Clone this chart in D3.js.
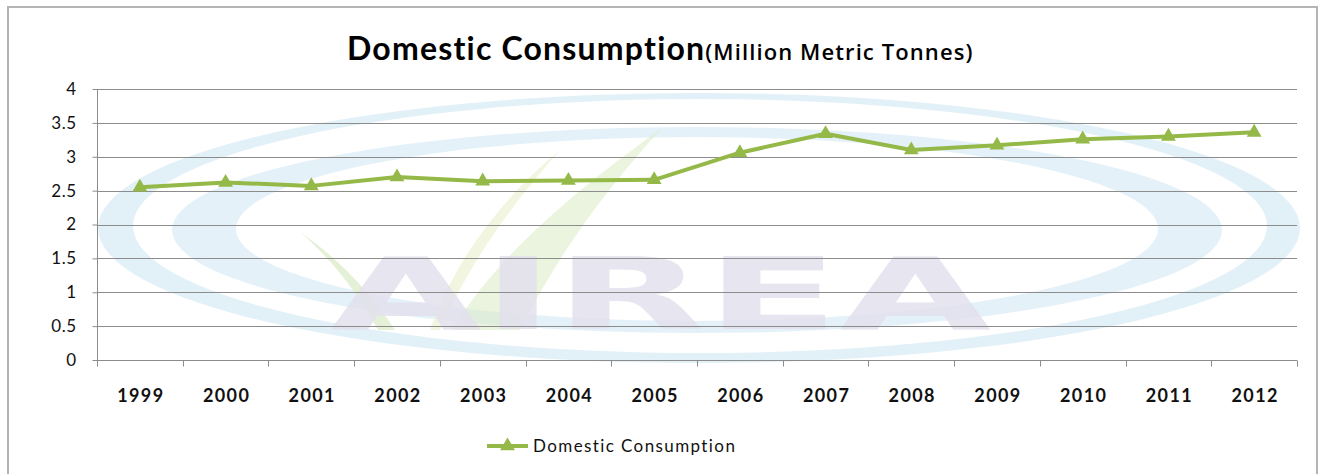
<!DOCTYPE html>
<html>
<head>
<meta charset="utf-8">
<script src="https://cdn.jsdelivr.net/npm/d3@7"></script>
<style>
  html, body { margin: 0; padding: 0; background: #fff; }
  svg { display: block; }
</style>
</head>
<body>
<svg id="chart" width="1327" height="474"></svg>
<script>
// Domestic consumption, million metric tonnes
const years = ["1999","2000","2001","2002","2003","2004","2005","2006","2007","2008","2009","2010","2011","2012"];
const consumption = [2.55, 2.62, 2.57, 2.70, 2.64, 2.65, 2.66, 3.06, 3.34, 3.10, 3.17, 3.26, 3.30, 3.36];
const yTicks = [0, 0.5, 1, 1.5, 2, 2.5, 3, 3.5, 4];
const seriesName = "Domestic Consumption";
const titleMain = "Domestic Consumption";
const titleUnit = "(Million Metric Tonnes)";
const watermarkText = "AIREA";

const W = 1327, H = 474;
const plot = { left: 97, right: 1297, top: 89, bottom: 360 };
const lineColor = "#94b948";
const gridColor = "#8c8c8c";
const font = "Lato, 'Open Sans', sans-serif";

const svg = d3.select("#chart");
svg.append("rect").attr("width", W).attr("height", H).attr("fill", "#fff");

// outer frame
svg.append("rect")
  .attr("x", 8).attr("y", 7).attr("width", 1309).attr("height", 490)
  .attr("fill", "none").attr("stroke", "#b4b4b4").attr("stroke-width", 2);

const x = d3.scaleBand().domain(years).range([plot.left, plot.right]);
const y = d3.scaleLinear().domain([0, 4]).range([plot.bottom, plot.top]);

// faint logo watermark behind the plot
const wm = svg.append("g").attr("class", "watermark");
function ellipsePath(cx, cy, rx, ry) {
  return `M${cx - rx},${cy} a${rx},${ry} 0 1,0 ${2 * rx},0 a${rx},${ry} 0 1,0 ${-2 * rx},0 Z`;
}
wm.append("path")
  .attr("d", ellipsePath(699, 228, 601, 135) + ellipsePath(700, 226, 567, 127))
  .attr("fill-rule", "evenodd").attr("fill", "#d3e8f5").attr("opacity", 0.65);
wm.append("path")
  .attr("d", ellipsePath(697, 230, 525, 103) + ellipsePath(697, 229, 461, 92))
  .attr("fill-rule", "evenodd").attr("fill", "#d6eaf6").attr("opacity", 0.65);
// leaf strokes
wm.append("path")
  .attr("d", "M300,232 C335,262 362,300 378,330 L395,330 C370,292 338,258 300,232 Z")
  .attr("fill", "#dcecc8").attr("opacity", 0.75);
wm.append("path")
  .attr("d", "M662,128 C590,180 500,250 452,330 L520,330 C560,250 610,185 662,128 Z")
  .attr("fill", "#dcecc8").attr("opacity", 0.6);
wm.append("path")
  .attr("d", "M560,150 C500,200 455,260 430,330 L440,330 C470,262 512,204 560,150 Z")
  .attr("fill", "#f1f4dc").attr("opacity", 0.9);
wm.append("text")
  .attr("transform", "translate(330,329) scale(1.96,1)")
  .attr("font-family", "'DejaVu Sans', sans-serif").attr("font-weight", "bold")
  .attr("font-size", 100).attr("fill", "#e3e1ee").attr("opacity", 0.85)
  .text(watermarkText);

// horizontal gridlines
svg.append("g").selectAll("line").data(yTicks).join("line")
  .attr("x1", plot.left).attr("x2", plot.right)
  .attr("y1", d => Math.round(y(d)) + 0.5).attr("y2", d => Math.round(y(d)) + 0.5)
  .attr("stroke", gridColor).attr("stroke-width", 1);

// y axis
const yAxis = svg.append("g")
  .attr("transform", `translate(${plot.left + 0.5},0)`)
  .call(d3.axisLeft(y).tickValues(yTicks).tickSize(5).tickPadding(16)
    .tickFormat(d => String(d)));
yAxis.select(".domain").attr("stroke", gridColor).attr("d", `M-0,${plot.top}V${plot.bottom}`);
yAxis.selectAll(".tick line").attr("stroke", gridColor);
yAxis.selectAll(".tick text")
  .attr("font-family", font).attr("font-size", 17).attr("letter-spacing", 0.5).attr("fill", "#111");

// x axis with ticks between categories
const xAxisG = svg.append("g")
  .attr("transform", `translate(0,${Math.round(plot.bottom) + 0.5})`);
xAxisG.append("line")
  .attr("x1", plot.left).attr("x2", plot.right)
  .attr("stroke", gridColor);
const boundaries = years.map(d => x(d)).concat([x(years[years.length - 1]) + x.bandwidth()]);
xAxisG.selectAll("line.tick").data(boundaries).join("line")
  .attr("class", "tick")
  .attr("x1", d => Math.round(d) + 0.5).attr("x2", d => Math.round(d) + 0.5)
  .attr("y1", 0).attr("y2", 6).attr("stroke", gridColor);
xAxisG.selectAll("text").data(years).join("text")
  .attr("x", d => x(d) + x.bandwidth() / 2 + 1)
  .attr("y", 41)
  .attr("text-anchor", "middle")
  .attr("font-family", font).attr("font-weight", "bold")
  .attr("font-size", 18).attr("letter-spacing", 1.4).attr("fill", "#111")
  .text(d => d);

// series line and markers
const cx = d => x(d) + x.bandwidth() / 2;
const line = d3.line().x((d, i) => cx(years[i])).y(d => y(d));
svg.append("path")
  .datum(consumption)
  .attr("d", line)
  .attr("fill", "none").attr("stroke", lineColor)
  .attr("stroke-width", 4).attr("stroke-linejoin", "round");
const tri = d3.symbol(d3.symbolTriangle).size(95);
svg.append("g").selectAll("path").data(consumption).join("path")
  .attr("transform", (d, i) => `translate(${cx(years[i])},${y(d)})`)
  .attr("d", tri).attr("fill", lineColor);

// title
const title = svg.append("text")
  .attr("x", 347).attr("y", 60)
  .attr("fill", "#000");
title.append("tspan").attr("font-family", font).attr("font-weight", "bold")
  .attr("font-size", 32).attr("letter-spacing", 1.2).text(titleMain);
title.append("tspan").attr("font-family", "'Open Sans', sans-serif").attr("font-weight", 600)
  .attr("font-size", 22).attr("letter-spacing", 1.1).text(titleUnit);

// legend
const lg = svg.append("g").attr("transform", "translate(487,446)");
lg.append("line").attr("x1", 0).attr("x2", 41).attr("y1", 0).attr("y2", 0)
  .attr("stroke", lineColor).attr("stroke-width", 4);
lg.append("path").attr("transform", "translate(20.5,0)").attr("d", tri).attr("fill", lineColor);
lg.append("text").attr("x", 46).attr("y", 6)
  .attr("font-family", font).attr("font-size", 17).attr("letter-spacing", 1.4).attr("fill", "#111")
  .text(seriesName);
</script>
</body>
</html>
